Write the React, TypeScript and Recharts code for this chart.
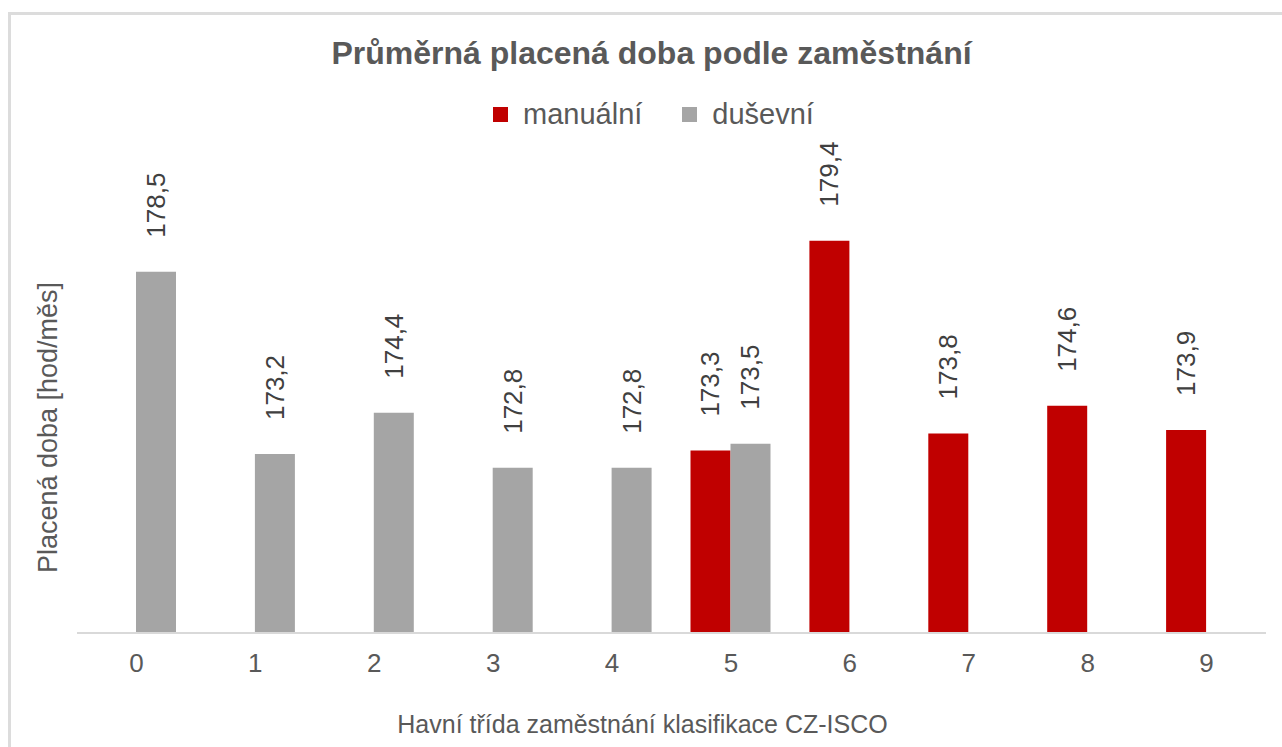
import { BarChart, Bar, XAxis, YAxis, Legend, LabelList } from "recharts"

const categories = ["0", "1", "2", "3", "4", "5", "6", "7", "8", "9"]
const manualni = [null, null, null, null, null, 173.3, 179.4, 173.8, 174.6, 173.9]
const dusevni = [178.5, 173.2, 174.4, 172.8, 172.8, 173.5, null, null, null, null]
const yDomain = [168, 180]
const seriesOrder = ["manualni", "dusevni"]

const data = categories.map((trida, i) => ({
  trida,
  manualni: manualni[i],
  dusevni: dusevni[i],
}))

const FONT = '"Liberation Sans", Arial, sans-serif'
const TEXT = "#595959"

function BarValue(props: any) {
  const { x, y, width, value } = props
  if (value == null) return null
  const cx = Number(x) + Number(width) / 2
  const sy = Number(y) - 34
  return (
    <text
      x={cx}
      y={sy}
      transform={`rotate(-90 ${cx} ${sy})`}
      textAnchor="start"
      dominantBaseline="central"
      fontSize={26}
      fontFamily={FONT}
      fill="#404040"
    >
      {Number(value).toFixed(1).replace(".", ",")}
    </text>
  )
}

function ChartLegend(props: any) {
  const items = [...(props.payload || [])].sort(
    (a: any, b: any) => seriesOrder.indexOf(a.dataKey) - seriesOrder.indexOf(b.dataKey)
  )
  return (
    <div
      style={{
        display: "flex",
        justifyContent: "center",
        alignItems: "center",
        height: 30,
        paddingLeft: 30,
        fontSize: 29,
        fontFamily: FONT,
        color: TEXT,
      }}
    >
      {items.map((it: any, i: number) => (
        <div key={i} style={{ display: "flex", alignItems: "center", marginLeft: i ? 40 : 0 }}>
          <span style={{ width: 15, height: 15, background: it.color, marginRight: 15 }} />
          <span>{it.value}</span>
        </div>
      ))}
    </div>
  )
}

export default function App() {
  return (
    <div
      style={{
        position: "fixed",
        left: 8,
        top: 12,
        width: 1290,
        height: 750,
        borderLeft: "3px solid #dcdcdc",
        borderTop: "3px solid #dcdcdc",
        background: "#fff",
        fontFamily: FONT,
      }}
    >
      <div
        style={{
          position: "absolute",
          top: 20,
          left: 0,
          width: 1281,
          textAlign: "center",
          fontSize: 32,
          fontWeight: "bold",
          color: TEXT,
        }}
      >
        Průměrná placená doba podle zaměstnání
      </div>
      <BarChart
        width={1271}
        height={732}
        data={data}
        barSize={40}
        barGap={0}
        margin={{ top: 175, right: 16, left: 0, bottom: 14 }}
      >
        <Legend verticalAlign="top" wrapperStyle={{ top: 84 }} content={<ChartLegend />} />
        <XAxis
          dataKey="trida"
          height={100}
          axisLine={{ stroke: "#d9d9d9", strokeWidth: 2 }}
          tickLine={false}
          tickMargin={15}
          tick={{ fill: TEXT, fontSize: 26, fontFamily: FONT }}
          label={{
            value: "Havní třída zaměstnání klasifikace CZ-ISCO",
            position: "insideBottom",
            offset: 0,
            dx: -29,
            fill: TEXT,
            fontSize: 25,
            fontFamily: FONT,
          }}
        />
        <YAxis
          width={66}
          domain={yDomain}
          allowDataOverflow
          tick={false}
          axisLine={false}
          tickLine={false}
          label={{
            value: "Placená doba [hod/měs]",
            angle: -90,
            position: "insideLeft",
            offset: 36,
            dy: 1,
            fill: TEXT,
            fontSize: 27,
            fontFamily: FONT,
            style: { textAnchor: "middle" },
          }}
        />
        <Bar dataKey="manualni" name="manuální" fill="#C00000" isAnimationActive={false}>
          <LabelList dataKey="manualni" content={<BarValue />} />
        </Bar>
        <Bar dataKey="dusevni" name="duševní" fill="#A5A5A5" isAnimationActive={false}>
          <LabelList dataKey="dusevni" content={<BarValue />} />
        </Bar>
      </BarChart>
    </div>
  )
}
